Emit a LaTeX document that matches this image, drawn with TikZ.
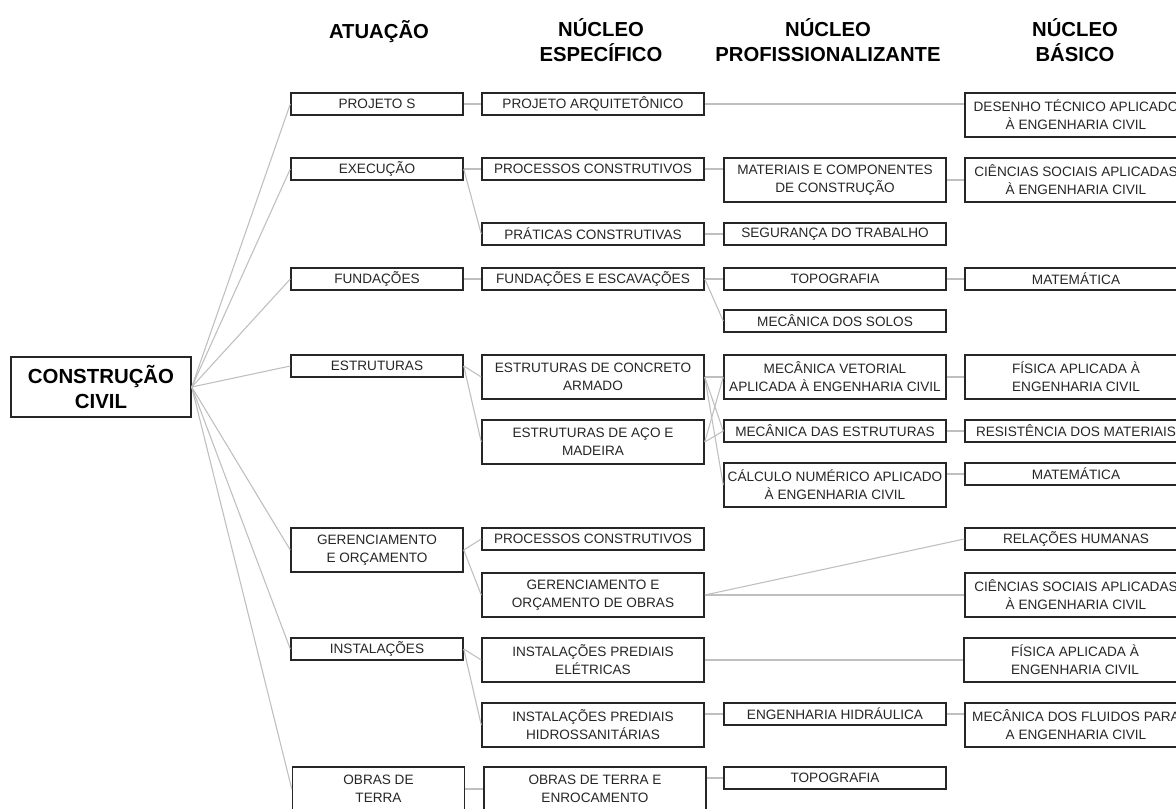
\documentclass[tikz,border=0pt]{standalone}
\usepackage{fontspec}
\setmainfont{Liberation Sans}
\begin{document}
\begin{tikzpicture}[x=0.75pt,y=-0.75pt,
  bx/.style={draw=black!85, line width=1.1pt, inner sep=0pt, align=center, font=\fontsize{10.2}{13.5}\selectfont, text=black!85},
  sA/.style={bx, minimum width=129pt, minimum height=16.5pt},
  dA/.style={bx, minimum width=129pt, minimum height=33pt},
  sW/.style={bx, minimum width=166.5pt, minimum height=16.5pt},
  dW/.style={bx, minimum width=166.5pt, minimum height=33pt},
  hd/.style={font=\bfseries\fontsize{15.2}{18.75}\selectfont, align=center, inner sep=0pt},
  ln/.style={draw=black!25, line width=0.8pt}]
\useasboundingbox (0,0) rectangle (1176,808);
\clip (0,0) rectangle (1176,808);
\fill[white] (0,0) rectangle (1176,808);
% headers
\node[hd] (h1) at (379,32) {ATUAÇÃO};
\node[hd] (h2) at (601,40) {NÚCLEO\\ESPECÍFICO};
\node[hd] (h3) at (828,40) {NÚCLEO\\PROFISSIONALIZANTE};
\node[hd] (h4) at (1075,40) {NÚCLEO\\BÁSICO};
% root
\node[bx, font=\bfseries\fontsize{15.3}{18.75}\selectfont, text=black, minimum width=135pt, minimum height=45pt] (cc) at (101,387) {CONSTRUÇÃO\\CIVIL};
% column A
\node[sA] (ps) at (377,104) {PROJETO S};
\node[sA] (ex) at (377,169) {EXECUÇÃO};
\node[sA] (fu) at (377,279) {FUNDAÇÕES};
\node[sA] (es) at (377,366) {ESTRUTURAS};
\node[dA] (go) at (377,550) {GERENCIAMENTO\\E ORÇAMENTO};
\node[sA] (in) at (377,649) {INSTALAÇÕES};
\node[dA] (ob) at (378.5,789) {OBRAS DE\\TERRA};
% column B
\node[sW] (pa) at (593,104) {PROJETO ARQUITETÔNICO};
\node[sW] (pc) at (593,169) {PROCESSOS CONSTRUTIVOS};
\node[sW] (pr) at (593,234) {PRÁTICAS CONSTRUTIVAS};
\node[sW] (fe) at (593,279) {FUNDAÇÕES E ESCAVAÇÕES};
\node[dW] (ca) at (593,377) {ESTRUTURAS DE CONCRETO\\ARMADO};
\node[dW] (am) at (593,442) {ESTRUTURAS DE AÇO E\\MADEIRA};
\node[sW] (pc2) at (593,539) {PROCESSOS CONSTRUTIVOS};
\node[dW] (gob) at (593,595) {GERENCIAMENTO E\\ORÇAMENTO DE OBRAS};
\node[dW] (ie) at (593,660) {INSTALAÇÕES PREDIAIS\\ELÉTRICAS};
\node[dW] (ih) at (593,725) {INSTALAÇÕES PREDIAIS\\HIDROSSANITÁRIAS};
\node[dW] (oe) at (595,789) {OBRAS DE TERRA E\\ENROCAMENTO};
% column C
\node[dW] (mc) at (835,180) {MATERIAIS E COMPONENTES\\DE CONSTRUÇÃO};
\node[sW] (sg) at (835,234) {SEGURANÇA DO TRABALHO};
\node[sW] (tp) at (835,279) {TOPOGRAFIA};
\node[sW] (ms) at (835,321) {MECÂNICA DOS SOLOS};
\node[dW] (mv) at (835,377) {MECÂNICA VETORIAL\\APLICADA À ENGENHARIA CIVIL};
\node[sW] (me) at (835,431) {MECÂNICA DAS ESTRUTURAS};
\node[dW] (cn) at (835,485) {CÁLCULO NUMÉRICO APLICADO\\À ENGENHARIA CIVIL};
\node[sW] (eh) at (835,714) {ENGENHARIA HIDRÁULICA};
\node[sW] (tp2) at (835,778) {TOPOGRAFIA};
% column D
\node[dW] (dt) at (1076,115) {DESENHO TÉCNICO APLICADO\\À ENGENHARIA CIVIL};
\node[dW] (cs) at (1076,180) {CIÊNCIAS SOCIAIS APLICADAS\\À ENGENHARIA CIVIL};
\node[sW] (mt) at (1076,279) {MATEMÁTICA};
\node[dW] (fa) at (1076,377) {FÍSICA APLICADA À\\ENGENHARIA CIVIL};
\node[sW] (rm) at (1076,431) {RESISTÊNCIA DOS MATERIAIS};
\node[sW] (mt2) at (1076,474) {MATEMÁTICA};
\node[sW] (rh) at (1076,539) {RELAÇÕES HUMANAS};
\node[dW] (cs2) at (1076,595) {CIÊNCIAS SOCIAIS APLICADAS\\À ENGENHARIA CIVIL};
\node[dW] (fa2) at (1075,660) {FÍSICA APLICADA À\\ENGENHARIA CIVIL};
\node[dW] (mf) at (1076,725) {MECÂNICA DOS FLUIDOS PARA\\A ENGENHARIA CIVIL};
% connectors root -> A
\foreach \t in {ps,ex,fu,es,go,in,ob} \draw[ln] (cc.east) -- (\t.west);
% A -> B
\draw[ln] (ps.east) -- (pa.west);
\draw[ln] (ex.east) -- (pc.west);
\draw[ln] (ex.east) -- (pr.west);
\draw[ln] (fu.east) -- (fe.west);
\draw[ln] (es.east) -- (ca.west);
\draw[ln] (es.east) -- (am.west);
\draw[ln] (go.east) -- (pc2.west);
\draw[ln] (go.east) -- (gob.west);
\draw[ln] (in.east) -- (ie.west);
\draw[ln] (in.east) -- (ih.west);
\draw[ln] (ob.east) -- (oe.west);
% B -> C / D
\draw[ln] (pa.east) -- (pa.east -| dt.west);
\draw[ln] (pc.east) -- (pc.east -| mc.west);
\draw[ln] (pr.east) -- (sg.west);
\draw[ln] (fe.east) -- (tp.west);
\draw[ln] (fe.east) -- (ms.west);
\draw[ln] (ca.east) -- (mv.west);
\draw[ln] (ca.east) -- (me.west);
\draw[ln] (ca.east) -- (cn.west);
\draw[ln] (am.east) -- (mv.west);
\draw[ln] (am.east) -- (me.west);
\draw[ln] (gob.east) -- (rh.west);
\draw[ln] (gob.east) -- (cs2.west);
\draw[ln] (ie.east) -- (fa2.west);
\draw[ln] (eh.west -| ih.east) -- (eh.west);
\draw[ln] (tp2.west -| oe.east) -- (tp2.west);
% C -> D
\draw[ln] (mc.east) -- (cs.west);
\draw[ln] (tp.east) -- (mt.west);
\draw[ln] (mv.east) -- (fa.west);
\draw[ln] (me.east) -- (rm.west);
\draw[ln] (mt2.west -| cn.east) -- (mt2.west);
\draw[ln] (eh.east) -- (eh.east -| mf.west);
\end{tikzpicture}
\end{document}
